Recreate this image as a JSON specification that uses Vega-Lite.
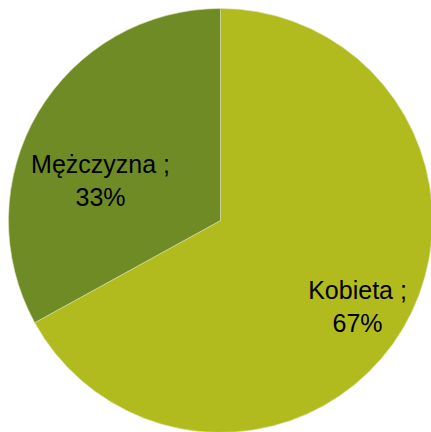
{
  "$schema": "https://vega.github.io/schema/vega-lite/v6.json",
  "width": 421,
  "height": 423,
  "autosize": "none",
  "padding": {"left": 10, "top": 9, "right": 0, "bottom": 0},
  "background": "white",
  "view": {"stroke": null},
  "data": {"values": [
    {"plec": "Kobieta", "value": 67},
    {"plec": "Mężczyzna", "value": 33}
  ]},
  "transform": [
    {"calculate": "datum.plec + ' ;\\n' + datum.value + '%'", "as": "label"}
  ],
  "encoding": {
    "theta": {"field": "value", "type": "quantitative", "stack": true},
    "order": {"field": "value", "type": "quantitative", "sort": "descending"},
    "color": {
      "field": "plec", "type": "nominal",
      "scale": {"domain": ["Kobieta", "Mężczyzna"], "range": ["#B2BB1E", "#6E8B26"]},
      "legend": null
    }
  },
  "layer": [
    {"mark": {"type": "arc", "outerRadius": 212, "stroke": "#dfe3b0", "strokeWidth": 0.6}},
    {
      "mark": {"type": "text", "font": "Liberation Sans", "fontSize": 25, "lineBreak": "\n", "lineHeight": 33, "align": "center", "baseline": "middle", "dx": -11.5, "dy": 8.6, "color": "black"},
      "encoding": {
        "radius": {"value": 126},
        "color": {"value": "black"},
        "text": {"condition": {"test": "datum.plec === 'Mężczyzna'", "field": "label"}, "value": ""}
      }
    },
    {
      "mark": {"type": "text", "font": "Liberation Sans", "fontSize": 25, "lineBreak": "\n", "lineHeight": 33, "align": "center", "baseline": "middle", "dx": -2.4, "dy": -12, "color": "black"},
      "encoding": {
        "radius": {"value": 162},
        "color": {"value": "black"},
        "text": {"condition": {"test": "datum.plec === 'Kobieta'", "field": "label"}, "value": ""}
      }
    }
  ]
}
